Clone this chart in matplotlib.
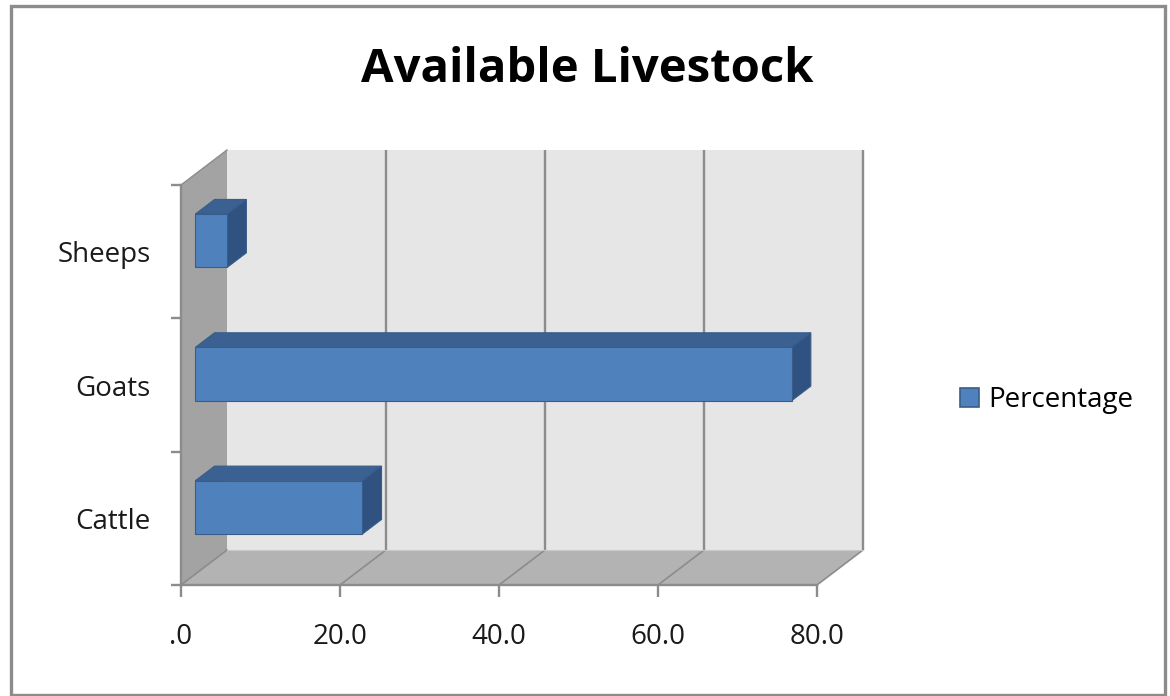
import matplotlib
matplotlib.use("Agg")
import matplotlib.pyplot as plt
from matplotlib.patches import Polygon, Rectangle, Patch

plt.rcParams['font.family'] = ['Open Sans', 'DejaVu Sans']

# ---- data ----
categories = ["Cattle", "Goats", "Sheeps"]
values = [21.0, 75.0, 4.0]
xticks = [0, 20, 40, 60, 80]
xticklabels = [".0", "20.0", "40.0", "60.0", "80.0"]
series_name = "Percentage"
title = "Available Livestock"

W, H = 1170, 696
fig = plt.figure(figsize=(W / 100, H / 100), dpi=100)

# front plane of the 3D box
x0px, x1px, ytop, ybot = 181, 817, 185, 585
ax = fig.add_axes([x0px / W, 1 - ybot / H, (x1px - x0px) / W, (ybot - ytop) / H])
XMAX = 80
ax.set_xlim(0, XMAX)
ax.set_ylim(-0.5, len(categories) - 0.5)
ax.patch.set_visible(False)

# depth offset in data units
px_per_x = (x1px - x0px) / XMAX
px_per_y = (ybot - ytop) / len(categories)
DX = 46 / px_per_x
DY = 35 / px_per_y
ylo, yhi = -0.5, len(categories) - 0.5

back_c, floor_c, wall_c, grid_c = "#e6e6e6", "#b3b3b3", "#a3a3a3", "#8c8c8c"

def poly(pts, fc, ec="none", lw=0, z=1):
    p = Polygon(pts, closed=True, facecolor=fc, edgecolor=ec, lw=lw,
                clip_on=False, zorder=z, joinstyle="miter")
    ax.add_patch(p)

# back wall
poly([(DX, ylo + DY), (XMAX + DX, ylo + DY), (XMAX + DX, yhi + DY), (DX, yhi + DY)], back_c, z=1)
# floor
poly([(0, ylo), (XMAX, ylo), (XMAX + DX, ylo + DY), (DX, ylo + DY)], floor_c, z=1)
# left wall
poly([(0, ylo), (0, yhi), (DX, yhi + DY), (DX, ylo + DY)], wall_c, z=1)

# gridlines on back wall and floor
for v in xticks:
    if v > 0:
        ax.plot([v + DX, v + DX], [ylo + DY, yhi + DY], color=grid_c, lw=1.7,
                clip_on=False, zorder=2, solid_capstyle="butt")
    ax.plot([v, v + DX], [ylo, ylo + DY], color=grid_c, lw=1.2,
            clip_on=False, zorder=2)
ax.plot([DX, XMAX + DX], [ylo + DY, ylo + DY], color="#c8c8c8", lw=0.8,
        clip_on=False, zorder=2)
ax.plot([0, DX], [yhi, yhi + DY], color=grid_c, lw=1.0, clip_on=False, zorder=2)

# bars
front_c, top_c, side_c, edge_c = "#4f81bd", "#3a6191", "#2f5280", "#385d8a"
bh = 0.40
f0, f1 = 0.31, 0.73
for i, v in enumerate(values):
    xa, xb = f0 * DX, v + f0 * DX
    ya, yb = i - bh / 2 + f0 * DY, i + bh / 2 + f0 * DY
    ddx, ddy = (f1 - f0) * DX, (f1 - f0) * DY
    poly([(xa, yb), (xb, yb), (xb + ddx, yb + ddy), (xa + ddx, yb + ddy)], top_c, edge_c, 0.8, z=4)
    poly([(xb, ya), (xb, yb), (xb + ddx, yb + ddy), (xb + ddx, ya + ddy)], side_c, edge_c, 0.8, z=4)
    poly([(xa, ya), (xb, ya), (xb, yb), (xa, yb)], front_c, edge_c, 0.8, z=5)

# axes / ticks
for s in ["top", "right"]:
    ax.spines[s].set_visible(False)
for s in ["left", "bottom"]:
    ax.spines[s].set_color(grid_c)
    ax.spines[s].set_linewidth(1.7)
    ax.spines[s].set_zorder(3)

ax.set_xticks(xticks)
ax.set_xticklabels(xticklabels, fontsize=20, color="#1a1a1a")
ax.tick_params(axis="x", direction="out", length=8.5, width=1.7, color=grid_c, pad=19)

ax.set_yticks([k - 0.5 for k in range(len(categories) + 1)])
ax.set_yticklabels([])
ax.set_yticks(range(len(categories)), minor=True)
ax.set_yticklabels(categories, minor=True, fontsize=20, color="#1a1a1a")
ax.tick_params(axis="y", which="major", direction="out", length=7, width=1.7, color=grid_c)
ax.tick_params(axis="y", which="minor", length=0, pad=22)

# title
fig.text(587 / W, 1 - 70 / H, title, ha="center", va="center",
         fontsize=34, fontweight="bold", color="black")

# legend
fig.legend(handles=[Patch(facecolor=front_c, edgecolor=edge_c, lw=1.2, label=series_name)],
           loc="center left", bbox_to_anchor=(960 / W, 1 - 400 / H), frameon=False,
           fontsize=20, handlelength=0.7, handleheight=0.7, handletextpad=0.3,
           borderaxespad=0, borderpad=0)

# outer border
fig.add_artist(Rectangle((10.5 / W, 1 - 694.5 / H), (1165 - 10.5) / W, (694.5 - 6) / H,
                         transform=fig.transFigure, fill=False, edgecolor="#8c8c8c", lw=2.4))

fig.savefig("out.png", dpi=100)
